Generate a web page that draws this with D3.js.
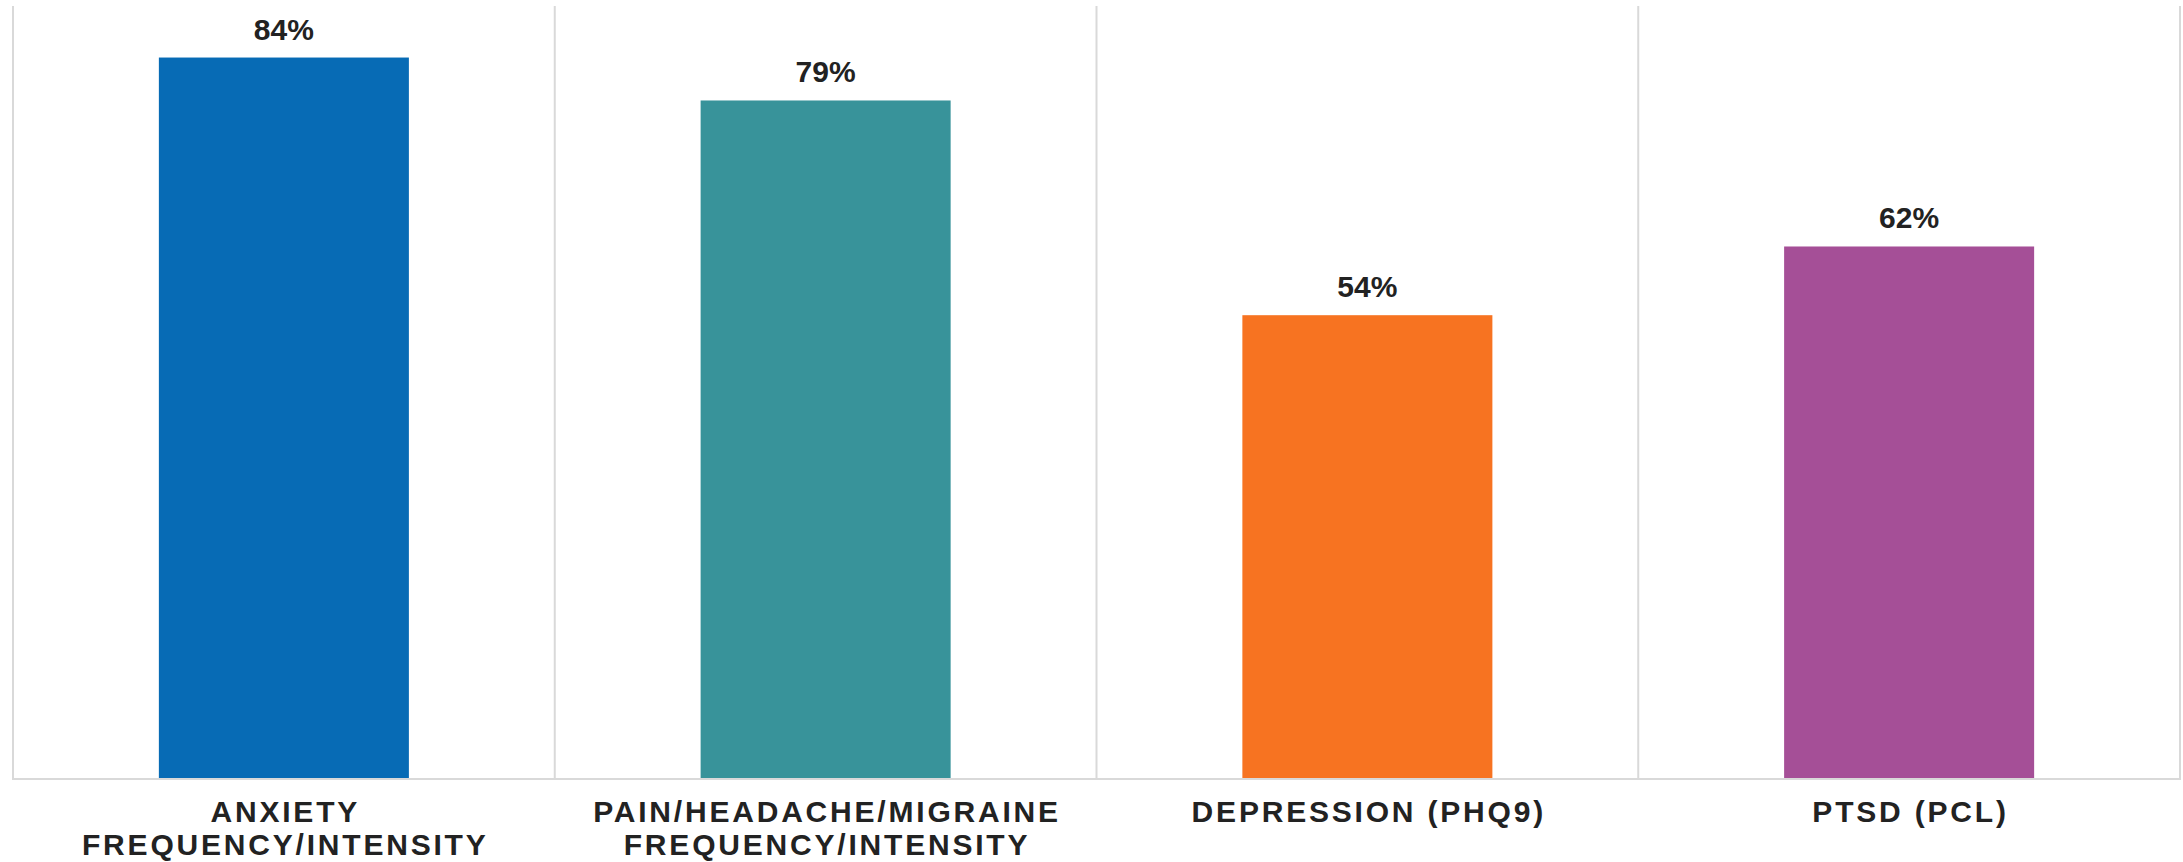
<!DOCTYPE html>
<html>
<head>
<meta charset="utf-8">
<script src="https://cdn.jsdelivr.net/npm/d3@7"></script>
<style>
    body { margin: 0; background: #fff; }
    svg text { font-family: "Liberation Sans", Arial, sans-serif; font-weight: bold; fill: #222; }
</style>
</head>
<body>
<svg id="chart"></svg>
<script>
// chart data
const categories = [
    ['ANXIETY', 'FREQUENCY/INTENSITY'],
    ['PAIN/HEADACHE/MIGRAINE', 'FREQUENCY/INTENSITY'],
    ['DEPRESSION (PHQ9)'],
    ['PTSD (PCL)']
];
const values = [0.84, 0.79, 0.54, 0.62];
const barColors = ['#076bb5', '#38939a', '#f77321', '#a54f97'];
const yMax = 0.9;

const width = 2183, height = 862;
const margin = { top: 6, right: 3, bottom: 83, left: 13 };

const svg = d3.select('#chart')
    .attr('width', width)
    .attr('height', height);

const innerW = width - margin.left - margin.right;
const innerH = height - margin.top - margin.bottom;

const chart = svg.append('g')
    .attr('transform', `translate(${margin.left},${margin.top})`);

const xScale = d3.scaleBand()
    .domain(d3.range(categories.length))
    .range([0, innerW])
    .padding(0);

const yScale = d3.scaleLinear()
    .domain([0, yMax])
    .range([innerH, 0]);

const barW = xScale.bandwidth() * 0.4615;

// vertical separators between categories
const edges = xScale.domain().map(i => xScale(i)).concat([innerW]);
chart.selectAll('.sep')
    .data(edges)
    .join('line')
    .attr('class', 'sep')
    .attr('x1', d => d).attr('x2', d => d)
    .attr('y1', 0).attr('y2', innerH)
    .attr('stroke', '#d9d9d9')
    .attr('stroke-width', 2);

// bars
chart.selectAll('.bar')
    .data(values)
    .join('rect')
    .attr('class', 'bar')
    .attr('x', (d, i) => xScale(i) + xScale.bandwidth() / 2 - barW / 2)
    .attr('y', d => yScale(d))
    .attr('width', barW)
    .attr('height', d => innerH - yScale(d))
    .attr('fill', (d, i) => barColors[i]);

// baseline
chart.append('line')
    .attr('x1', -1).attr('x2', innerW + 1)
    .attr('y1', innerH).attr('y2', innerH)
    .attr('stroke', '#d9d9d9')
    .attr('stroke-width', 2);

// value labels
chart.selectAll('.value')
    .data(values)
    .join('text')
    .attr('class', 'value')
    .attr('x', (d, i) => xScale(i) + xScale.bandwidth() / 2)
    .attr('y', d => yScale(d) - 18)
    .attr('text-anchor', 'middle')
    .attr('font-size', 30)
    .text(d => d3.format('.0%')(d));

// category labels
const catG = chart.selectAll('.cat')
    .data(categories)
    .join('text')
    .attr('class', 'cat')
    .attr('text-anchor', 'middle')
    .attr('font-size', 30)
    .attr('letter-spacing', 2.8)
    .attr('transform', (d, i) => `translate(${xScale(i) + xScale.bandwidth() / 2 + 1.4},${innerH + 43})`);

catG.selectAll('tspan')
    .data(d => d)
    .join('tspan')
    .attr('x', 0)
    .attr('dy', (d, i) => i === 0 ? 0 : 33)
    .text(d => d);
</script>
</body>
</html>
